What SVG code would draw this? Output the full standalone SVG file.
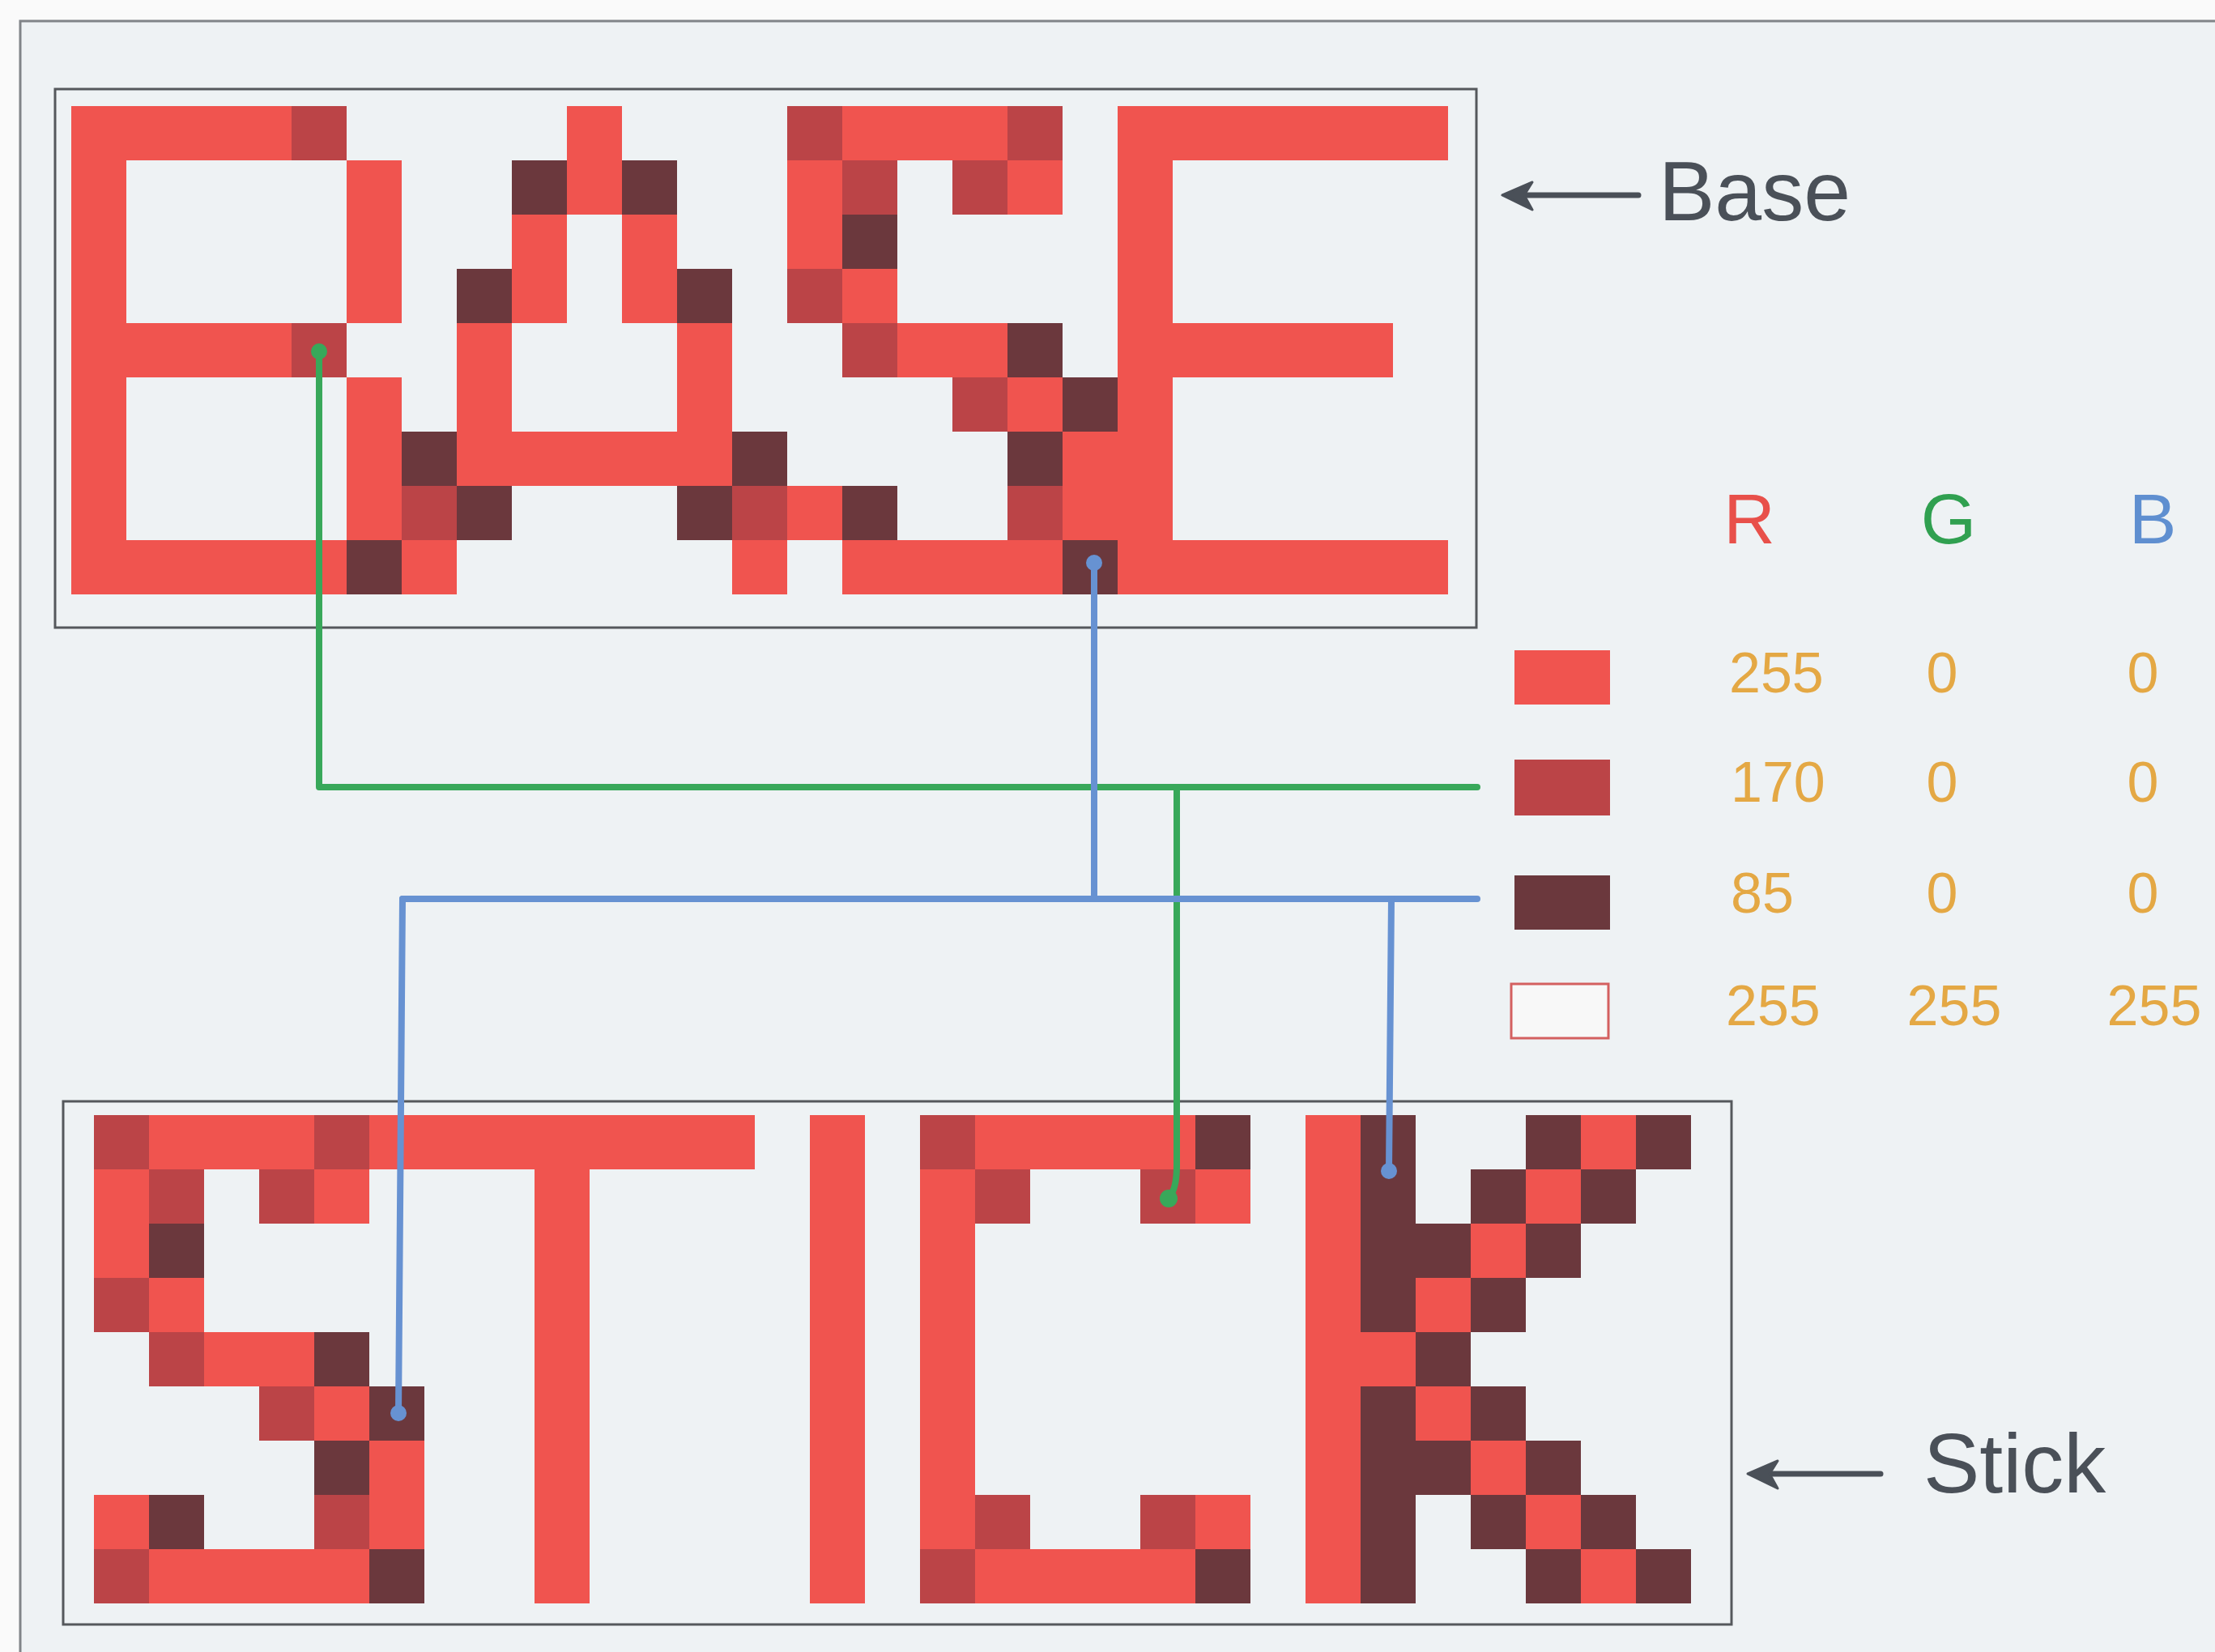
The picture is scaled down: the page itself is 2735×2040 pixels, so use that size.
<svg xmlns="http://www.w3.org/2000/svg" width="2735" height="2040" viewBox="0 0 2735 2040">
<defs>
<style>
.R{fill:#f0544f}
.M{fill:#bb4447}
.D{fill:#6b383d}
.panel{fill:#eef2f4;stroke:#55585c;stroke-width:3}
.lbl{font-family:"Liberation Sans",Arial,sans-serif;font-size:104px;fill:#4a5058}
.hdr{font-family:"Liberation Sans",Arial,sans-serif;font-size:88px}
.num{font-family:"Liberation Sans",Arial,sans-serif;font-size:70px;fill:#e4a844}
.arr{fill:none;stroke:#4a5058;stroke-width:7;stroke-linecap:round}
.head{fill:#4a5058;stroke:#4a5058;stroke-width:3;stroke-linejoin:round}
.g{fill:none;stroke:#38a85a;stroke-width:8;stroke-linecap:round;stroke-linejoin:round}
.b{fill:none;stroke:#6792d2;stroke-width:8;stroke-linecap:round;stroke-linejoin:round}
</style>
</defs>
<rect x="0" y="0" width="2735" height="2040" fill="#fafafa"/>
<rect x="25" y="26" width="2760" height="2060" fill="#eef2f4" stroke="#808488" stroke-width="3"/>

<g id="base">
<rect class="panel" x="68" y="110" width="1755" height="665"/>
<g id="letter-B">
<rect class="R" x="88" y="131" width="68" height="603"/>
<rect class="R" x="156" y="131" width="204" height="67"/>
<rect class="M" x="360" y="131" width="68" height="67"/>
<rect class="R" x="428" y="198" width="68" height="201"/>
<rect class="R" x="156" y="399" width="204" height="67"/>
<rect class="M" x="360" y="399" width="68" height="67"/>
<rect class="R" x="428" y="466" width="68" height="201"/>
<rect class="D" x="496" y="533" width="68" height="67"/>
<rect class="M" x="496" y="600" width="68" height="67"/>
<rect class="R" x="156" y="667" width="272" height="67"/>
<rect class="D" x="428" y="667" width="68" height="67"/>
<rect class="R" x="496" y="667" width="68" height="67"/>
</g>
<g id="letter-A">
<rect class="R" x="700" y="131" width="68" height="134"/>
<rect class="D" x="632" y="198" width="68" height="67"/>
<rect class="D" x="768" y="198" width="68" height="67"/>
<rect class="R" x="632" y="265" width="68" height="134"/>
<rect class="R" x="768" y="265" width="68" height="134"/>
<rect class="D" x="564" y="332" width="68" height="67"/>
<rect class="D" x="836" y="332" width="68" height="67"/>
<rect class="R" x="564" y="399" width="68" height="201"/>
<rect class="R" x="836" y="399" width="68" height="201"/>
<rect class="R" x="632" y="533" width="204" height="67"/>
<rect class="D" x="904" y="533" width="68" height="67"/>
<rect class="M" x="904" y="600" width="68" height="67"/>
<rect class="R" x="904" y="667" width="68" height="67"/>
<rect class="D" x="564" y="600" width="68" height="67"/>
<rect class="D" x="836" y="600" width="68" height="67"/>
</g>
<g id="letter-S1">
<rect class="M" x="972" y="131" width="68" height="67"/>
<rect class="R" x="1040" y="131" width="204" height="67"/>
<rect class="M" x="1244" y="131" width="68" height="67"/>
<rect class="R" x="972" y="198" width="68" height="134"/>
<rect class="M" x="1040" y="198" width="68" height="67"/>
<rect class="M" x="1176" y="198" width="68" height="67"/>
<rect class="R" x="1244" y="198" width="68" height="67"/>
<rect class="D" x="1040" y="265" width="68" height="67"/>
<rect class="M" x="972" y="332" width="68" height="67"/>
<rect class="R" x="1040" y="332" width="68" height="67"/>
<rect class="M" x="1040" y="399" width="68" height="67"/>
<rect class="R" x="1108" y="399" width="136" height="67"/>
<rect class="D" x="1244" y="399" width="68" height="67"/>
<rect class="M" x="1176" y="466" width="68" height="67"/>
<rect class="R" x="1244" y="466" width="68" height="67"/>
<rect class="D" x="1312" y="466" width="68" height="67"/>
<rect class="D" x="1244" y="533" width="68" height="67"/>
<rect class="R" x="1312" y="533" width="68" height="134"/>
<rect class="R" x="972" y="600" width="68" height="67"/>
<rect class="D" x="1040" y="600" width="68" height="67"/>
<rect class="M" x="1244" y="600" width="68" height="67"/>
<rect class="R" x="1040" y="667" width="272" height="67"/>
<rect class="D" x="1312" y="667" width="68" height="67"/>
</g>
<g id="letter-E">
<rect class="R" x="1380" y="131" width="68" height="603"/>
<rect class="R" x="1448" y="131" width="340" height="67"/>
<rect class="R" x="1448" y="399" width="272" height="67"/>
<rect class="R" x="1448" y="667" width="340" height="67"/>
</g>
</g>

<g id="stick">
<rect class="panel" x="78" y="1360" width="2060" height="646"/>
<g id="letter-S2">
<rect class="M" x="116" y="1377" width="68" height="67"/>
<rect class="R" x="184" y="1377" width="204" height="67"/>
<rect class="M" x="388" y="1377" width="68" height="67"/>
<rect class="R" x="116" y="1444" width="68" height="134"/>
<rect class="M" x="184" y="1444" width="68" height="67"/>
<rect class="M" x="320" y="1444" width="68" height="67"/>
<rect class="R" x="388" y="1444" width="68" height="67"/>
<rect class="D" x="184" y="1511" width="68" height="67"/>
<rect class="M" x="116" y="1578" width="68" height="67"/>
<rect class="R" x="184" y="1578" width="68" height="67"/>
<rect class="M" x="184" y="1645" width="68" height="67"/>
<rect class="R" x="252" y="1645" width="136" height="67"/>
<rect class="D" x="388" y="1645" width="68" height="67"/>
<rect class="M" x="320" y="1712" width="68" height="67"/>
<rect class="R" x="388" y="1712" width="68" height="67"/>
<rect class="D" x="456" y="1712" width="68" height="67"/>
<rect class="D" x="388" y="1779" width="68" height="67"/>
<rect class="R" x="456" y="1779" width="68" height="134"/>
<rect class="R" x="116" y="1846" width="68" height="67"/>
<rect class="D" x="184" y="1846" width="68" height="67"/>
<rect class="M" x="388" y="1846" width="68" height="67"/>
<rect class="M" x="116" y="1913" width="68" height="67"/>
<rect class="R" x="184" y="1913" width="272" height="67"/>
<rect class="D" x="456" y="1913" width="68" height="67"/>
</g>
<g id="letter-T">
<rect class="R" x="456" y="1377" width="476" height="67"/>
<rect class="R" x="660" y="1444" width="68" height="536"/>
</g>
<g id="letter-I">
<rect class="R" x="1000" y="1377" width="68" height="603"/>
</g>
<g id="letter-C">
<rect class="M" x="1136" y="1377" width="68" height="67"/>
<rect class="R" x="1204" y="1377" width="272" height="67"/>
<rect class="D" x="1476" y="1377" width="68" height="67"/>
<rect class="R" x="1136" y="1444" width="68" height="469"/>
<rect class="M" x="1204" y="1444" width="68" height="67"/>
<rect class="M" x="1408" y="1444" width="68" height="67"/>
<rect class="R" x="1476" y="1444" width="68" height="67"/>
<rect class="M" x="1204" y="1846" width="68" height="67"/>
<rect class="M" x="1408" y="1846" width="68" height="67"/>
<rect class="R" x="1476" y="1846" width="68" height="67"/>
<rect class="M" x="1136" y="1913" width="68" height="67"/>
<rect class="R" x="1204" y="1913" width="272" height="67"/>
<rect class="D" x="1476" y="1913" width="68" height="67"/>
</g>
<g id="letter-K">
<rect class="R" x="1612" y="1377" width="68" height="603"/>
<rect class="D" x="1680" y="1377" width="68" height="268"/>
<rect class="R" x="1680" y="1645" width="68" height="67"/>
<rect class="D" x="1680" y="1712" width="68" height="268"/>
<rect class="D" x="1884" y="1377" width="68" height="67"/>
<rect class="R" x="1952" y="1377" width="68" height="67"/>
<rect class="D" x="2020" y="1377" width="68" height="67"/>
<rect class="D" x="1816" y="1444" width="68" height="67"/>
<rect class="R" x="1884" y="1444" width="68" height="67"/>
<rect class="D" x="1952" y="1444" width="68" height="67"/>
<rect class="D" x="1748" y="1511" width="68" height="67"/>
<rect class="R" x="1816" y="1511" width="68" height="67"/>
<rect class="D" x="1884" y="1511" width="68" height="67"/>
<rect class="R" x="1748" y="1578" width="68" height="67"/>
<rect class="D" x="1816" y="1578" width="68" height="67"/>
<rect class="D" x="1748" y="1645" width="68" height="67"/>
<rect class="R" x="1748" y="1712" width="68" height="67"/>
<rect class="D" x="1816" y="1712" width="68" height="67"/>
<rect class="D" x="1748" y="1779" width="68" height="67"/>
<rect class="R" x="1816" y="1779" width="68" height="67"/>
<rect class="D" x="1884" y="1779" width="68" height="67"/>
<rect class="D" x="1816" y="1846" width="68" height="67"/>
<rect class="R" x="1884" y="1846" width="68" height="67"/>
<rect class="D" x="1952" y="1846" width="68" height="67"/>
<rect class="D" x="1884" y="1913" width="68" height="67"/>
<rect class="R" x="1952" y="1913" width="68" height="67"/>
<rect class="D" x="2020" y="1913" width="68" height="67"/>
</g>
</g>

<g id="label-base">
<path class="arr" d="M2023 241 H1870"/>
<path class="head" d="M1855 241 L1892 225 L1882 241 L1892 259 Z"/>
<text class="lbl" x="2048" y="272">Base</text>
</g>
<g id="label-stick">
<path class="arr" d="M2322 1820 H2175"/>
<path class="head" d="M2158 1820 L2195 1804 L2185 1820 L2195 1838 Z"/>
<text class="lbl" x="2375" y="1843">Stick</text>
</g>

<g id="legend">
<g id="legend-header">
<text class="hdr" x="2160" y="671" text-anchor="middle" fill="#e8504a">R</text>
<text class="hdr" x="2406" y="671" text-anchor="middle" fill="#30a050">G</text>
<text class="hdr" x="2658" y="671" text-anchor="middle" fill="#5f8fd0">B</text>
</g>
<g id="legend-255-0-0">
<rect class="R" x="1870" y="803" width="118" height="67"/>
<text class="num" x="2135" y="855">255</text>
<text class="num" x="2398" y="855" text-anchor="middle">0</text>
<text class="num" x="2646" y="855" text-anchor="middle">0</text>
</g>
<g id="legend-170-0-0">
<rect class="M" x="1870" y="938" width="118" height="69"/>
<text class="num" x="2137" y="990">170</text>
<text class="num" x="2398" y="990" text-anchor="middle">0</text>
<text class="num" x="2646" y="990" text-anchor="middle">0</text>
</g>
<g id="legend-85-0-0">
<rect class="D" x="1870" y="1081" width="118" height="67"/>
<text class="num" x="2137" y="1127">85</text>
<text class="num" x="2398" y="1127" text-anchor="middle">0</text>
<text class="num" x="2646" y="1127" text-anchor="middle">0</text>
</g>
<g id="legend-255-255-255">
<rect x="1866" y="1215" width="120" height="67" fill="#f8f8f8" stroke="#d46060" stroke-width="3"/>
<text class="num" x="2131" y="1266">255</text>
<text class="num" x="2413" y="1266" text-anchor="middle">255</text>
<text class="num" x="2660" y="1266" text-anchor="middle">255</text>
</g>
</g>

<g id="connectors">
<path class="g" d="M394 434 V972 H1824"/>
<path class="g" d="M1453 972 V1440 Q1453 1468 1443 1480"/>
<path class="b" d="M1351 695 V1110"/>
<path class="b" d="M497 1110 H1824"/>
<path class="b" d="M497 1110 L492 1745"/>
<path class="b" d="M1718 1110 L1715 1446"/>
<circle cx="394" cy="434" r="10" fill="#38a85a"/>
<circle cx="1443" cy="1480" r="11" fill="#38a85a"/>
<circle cx="1351" cy="695" r="10" fill="#6792d2"/>
<circle cx="492" cy="1745" r="10" fill="#6792d2"/>
<circle cx="1715" cy="1446" r="10" fill="#6792d2"/>
</g>
</svg>
